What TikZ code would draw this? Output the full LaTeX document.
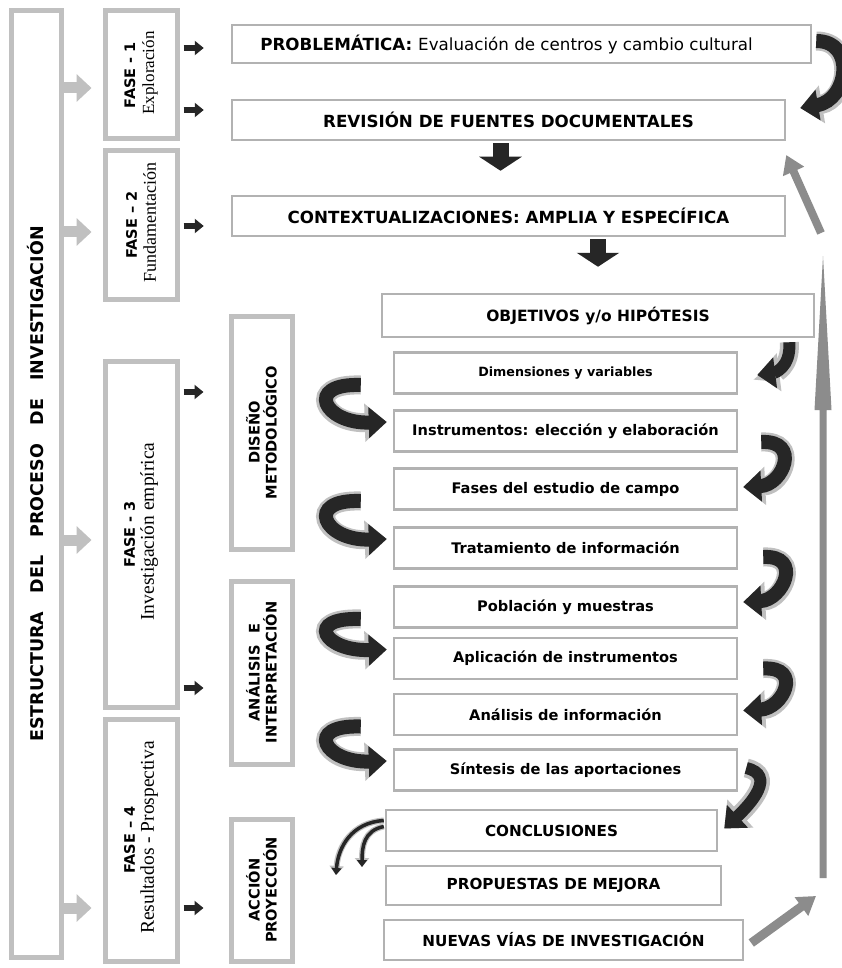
\documentclass[tikz,border=0pt]{standalone}
\usepackage{fontspec}
\setmainfont{Liberation Serif}
\setsansfont{DejaVu Sans}
\usetikzlibrary{arrows.meta}
\definecolor{lgray}{RGB}{192,192,192}
\definecolor{mgray}{RGB}{178,178,178}
\definecolor{dark}{RGB}{38,38,38}
\definecolor{agray}{RGB}{140,140,140}
\tikzset{
  sidebox/.style={draw=lgray, line width=5pt, fill=white, inner sep=0pt, rotate=90, align=center},
  mbox/.style={draw=mgray, line width=2.5pt, fill=white, inner sep=0pt, font=\sffamily\bfseries\fontsize{16.7}{19}\selectfont},
  sbox/.style={mbox, minimum width=343pt, minimum height=41pt, font=\sffamily\bfseries\fontsize{14.6}{17}\selectfont},
  capbox/.style={sbox, font=\sffamily\bfseries\fontsize{15.2}{18}\selectfont},
  garr/.style={line width=11pt, draw=lgray, -{Triangle[width=27pt,length=15pt]}},
  darr/.style={line width=6pt, draw=dark, -{Triangle[width=14pt,length=9pt]}},
  downarr/.style={line width=16pt, draw=dark, -{Triangle[width=42pt,length=14pt]}},
  bigarr/.style={line width=9pt, draw=agray, -{Triangle[width=22pt,length=18pt]}},
  curl/.style={line width=14pt, draw=dark, -{Triangle[width=30pt,length=18pt]},
    preaction={draw=lgray, line width=19pt, -{Triangle[width=37pt,length=22pt]}}},
  thincurl/.style={line width=3.5pt, draw=dark, -{Triangle[width=10pt,length=7pt]},
    preaction={draw=lgray, line width=6pt, -{Triangle[width=14pt,length=9pt]}}},
  vtext/.style={font=\sffamily\bfseries\fontsize{14.6}{17}\selectfont},
}
\newcommand{\fasett}{\sffamily\bfseries\fontsize{14.5}{19}\selectfont}
\newcommand{\fasesub}[1]{\rmfamily\mdseries\fontsize{#1}{19}\selectfont}
\begin{document}
\begin{tikzpicture}[x=1pt,y=-1pt]
\useasboundingbox (0,0) rectangle (842,968);
\fill[white] (0,0) rectangle (842,968);

% left column
\node[sidebox, minimum width=946pt, minimum height=50pt, font=\sffamily\bfseries\fontsize{17.5}{20}\selectfont] (OUT) at (36,484)
  {ESTRUCTURA\hspace{1.05em}DEL\hspace{1.05em}PROCESO\hspace{1.05em}DE\hspace{1.05em}INVESTIGACIÓN};
\node[sidebox, minimum width=128pt, minimum height=72pt, font=\fontsize{15}{19}\selectfont] (F1) at (141,75)
  {{\fasett FASE - 1}\\{\fasesub{17} Exploración}};
\node[sidebox, minimum width=148pt, minimum height=72pt, font=\fontsize{15}{19}\selectfont] (F2) at (141,225)
  {{\fasett FASE – 2}\\{\fasesub{18} Fundamentación}};
\node[sidebox, minimum width=346pt, minimum height=72pt, font=\fontsize{15}{19}\selectfont] (F3) at (141,534)
  {{\fasett FASE - 3}\\{\fasesub{19.5} Investigación empírica}};
\node[sidebox, minimum width=242pt, minimum height=72pt, font=\fontsize{15}{19}\selectfont] (F4) at (141,840)
  {{\fasett FASE – 4}\\{\fasesub{19.5} Resultados - Prospectiva}};

% gray arrows outer -> fases
\draw[garr] (OUT.south |- 0,88) -- ([xshift=-11pt]F1.north |- 0,88);
\draw[garr] (OUT.south |- 0,232) -- ([xshift=-11pt]F2.north |- 0,232);
\draw[garr] (OUT.south |- 0,540) -- ([xshift=-11pt]F3.north |- 0,540);
\draw[garr] (OUT.south |- 0,908) -- ([xshift=-11pt]F4.north |- 0,908);

% middle column boxes
\node[sidebox, vtext, minimum width=233pt, minimum height=61pt] (DIS) at (261.5,432.5) {DISEÑO\\METODOLÓGICO};
\node[sidebox, vtext, minimum width=183pt, minimum height=61pt] (ANI) at (261.5,672.5) {ANÁLISIS\hspace{0.8em}E\\INTERPRETACIÓN};
\node[sidebox, vtext, minimum width=142pt, minimum height=61pt] (ACC) at (261.5,890) {ACCIÓN\\PROYECCIÓN};

% main boxes
\node[mbox, minimum width=579pt, minimum height=38pt] (P) at (521.5,44)
  {\hspace{-30pt}PROBLEMÁTICA: {\mdseries Evaluación de centros y cambio cultural}};
\node[mbox, minimum width=553pt, minimum height=40pt] (REV) at (508.5,120) {REVISIÓN DE FUENTES DOCUMENTALES};
\node[mbox, minimum width=553pt, minimum height=40pt] (CTX) at (508.5,216) {CONTEXTUALIZACIONES: AMPLIA Y ESPECÍFICA};
\node[mbox, minimum width=432pt, minimum height=43pt, font=\sffamily\bfseries\fontsize{15.5}{18}\selectfont] (OBJ) at (598,315.5) {OBJETIVOS y/o HIPÓTESIS};
\node[sbox, font=\sffamily\bfseries\fontsize{12.7}{15}\selectfont] (DIM) at (565.5,373) {Dimensiones y variables};
\node[sbox] (INS) at (565.5,431) {Instrumentos: elección y elaboración};
\node[sbox] (FAS) at (565.5,489) {Fases del estudio de campo};
\node[sbox] (TRA) at (565.5,548) {Tratamiento de información};
\node[sbox] (POB) at (565.5,607) {Población y muestras};
\node[sbox] (APL) at (565.5,658.5) {Aplicación de instrumentos};
\node[sbox] (ANA) at (565.5,714.5) {Análisis de información};
\node[sbox] (SIN) at (565.5,770) {Síntesis de las aportaciones};
\node[capbox, minimum width=331pt] (CON) at (551.5,830.5) {CONCLUSIONES};
\node[capbox, minimum width=335pt, minimum height=39pt] (PRO) at (553.5,885.5) {PROPUESTAS DE MEJORA};
\node[capbox, minimum width=359pt, minimum height=40pt] (NUE) at (563.5,940) {NUEVAS VÍAS DE INVESTIGACIÓN};

% dark small arrows fase -> content
\draw[darr] ([xshift=4pt]F1.south |- 0,48) -- ([xshift=-27pt]P.west |- 0,48);
\draw[darr] ([xshift=4pt]F1.south |- 0,110) -- ([xshift=-27pt]REV.west |- 0,110);
\draw[darr] ([xshift=4pt]F2.south |- 0,226) -- ([xshift=-27pt]CTX.west |- 0,226);
\draw[darr] ([xshift=4pt]F3.south |- 0,392) -- ([xshift=-25pt]DIS.north |- 0,392);
\draw[darr] ([xshift=4pt]F3.south |- 0,688) -- ([xshift=-25pt]ANI.north |- 0,688);
\draw[darr] ([xshift=4pt]F4.south |- 0,908) -- ([xshift=-25pt]ACC.north |- 0,908);

% down arrows
\draw[downarr] ([xshift=-8pt,yshift=-2pt]REV.south) -- ([xshift=-8pt,yshift=24pt]CTX.north);
\draw[downarr] ([yshift=-2pt]OBJ.north |- CTX.south) -- ([yshift=26pt]OBJ.north);

% curved arrows, right side
\draw[curl] ([xshift=4pt,yshift=3pt]P.east) .. controls +(40,0) and +(48,-8) .. ([xshift=14pt,yshift=12pt]REV.east);
\draw[curl, line width=12pt] ([xshift=-26pt,yshift=-4pt]OBJ.south east) .. controls +(2,26) and +(16,-2) .. ([xshift=19pt,yshift=-2pt]DIM.east);
\draw[curl] ([xshift=23pt,yshift=-11pt]INS.east) .. controls +(40,-2) and +(40,-2) .. ([xshift=5pt,yshift=2pt]FAS.east);
\draw[curl] ([xshift=25pt,yshift=-9pt]TRA.east) .. controls +(40,-2) and +(40,-2) .. ([xshift=5pt,yshift=5pt]POB.east);
\draw[curl] ([xshift=25pt,yshift=-10pt]APL.east) .. controls +(40,-2) and +(40,-2) .. ([xshift=5pt,yshift=4pt]ANA.east);
\draw[curl, line width=12pt] ([xshift=8pt,yshift=2pt]SIN.east) .. controls +(30,7) and +(27,-25) .. ([xshift=6pt,yshift=2pt]CON.east);

% curved arrows, left side
\draw[curl] ([xshift=-32pt,yshift=-12pt]DIM.west) .. controls +(-57,-2) and +(-63,2) .. ([xshift=-6pt,yshift=9pt]INS.west);
\draw[curl] ([xshift=-32pt,yshift=-12pt]FAS.west) .. controls +(-57,-2) and +(-63,2) .. ([xshift=-6pt,yshift=9pt]TRA.west);
\draw[curl] ([xshift=-32pt,yshift=-12pt]POB.west) .. controls +(-57,-2) and +(-63,2) .. ([xshift=-6pt,yshift=9pt]APL.west);
\draw[curl] ([xshift=-32pt,yshift=-12pt]ANA.west) .. controls +(-57,-2) and +(-63,2) .. ([xshift=-6pt,yshift=9pt]SIN.west);

% thin double arrow near conclusions
\coordinate (t1) at (336,875);
\coordinate (t2) at (362,867);
\draw[thincurl] ([xshift=-1pt,yshift=10pt]CON.west) .. controls +(-32,2) and +(2,-28) .. (t1);
\draw[thincurl] ([xshift=-1pt,yshift=4pt]CON.west) .. controls +(-20,4) and +(0,-20) .. (t2);

% gray return arrows
\coordinate (vb) at (823,878);
\coordinate (vt) at (823,256);
\coordinate (vh) at (823,410);
\fill[agray] ([xshift=-3.5pt]vb) -- ([xshift=-3.5pt]vh) -- ([xshift=-8.5pt]vh) -- (vt)
  -- ([xshift=8.5pt]vh) -- ([xshift=3.5pt]vh) -- ([xshift=3.5pt]vb) -- cycle;
\coordinate (dt1) at (821,233);
\draw[bigarr, line width=8pt] (dt1) -- ([xshift=0pt,yshift=-35pt]REV.east);
\coordinate (dt2) at (816,896);
\draw[bigarr] ([xshift=7pt,yshift=-3pt]NUE.east) -- (dt2);
\end{tikzpicture}
\end{document}
